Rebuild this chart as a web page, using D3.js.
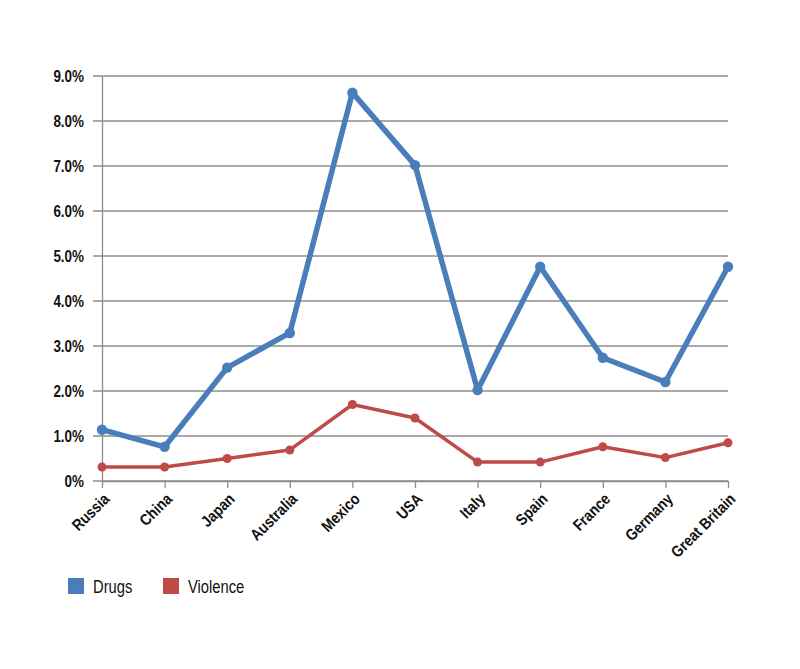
<!DOCTYPE html>
<html>
<head>
<meta charset="utf-8">
<script src="https://cdn.jsdelivr.net/npm/d3@7"></script>
<style>
  body { margin: 0; background: #fff; }
  text { font-family: "Liberation Sans", Arial, sans-serif; }
</style>
</head>
<body>
<script>
// Data
const countries = ["Russia", "China", "Japan", "Australia", "Mexico", "USA", "Italy", "Spain", "France", "Germany", "Great Britain"];
const drugs = [1.14, 0.76, 2.52, 3.29, 8.63, 7.02, 2.02, 4.76, 2.74, 2.20, 4.76];
const violence = [0.31, 0.31, 0.50, 0.69, 1.70, 1.40, 0.42, 0.42, 0.76, 0.52, 0.85];
const yTicks = [0, 1, 2, 3, 4, 5, 6, 7, 8, 9];

const W = 800, H = 669;
let margin = {top: 76, left: 102, bottom: 669 - 481, right: 800 - 728};
let width = W - margin.left - margin.right;
let height = H - margin.top - margin.bottom;

const svg = d3.select("body").append("svg")
    .attr("width", W)
    .attr("height", H);

const g = svg.append("g")
    .attr("transform", `translate(${margin.left}, ${margin.top})`);

const x = d3.scalePoint()
    .domain(countries)
    .range([0, width]);

const y = d3.scaleLinear()
    .domain([0, 9])
    .range([height, 0]);

// Gridlines (they also serve as the left tick marks)
g.append("g")
  .selectAll("line")
  .data(yTicks)
  .join("line")
    .attr("x1", -9)
    .attr("x2", width)
    .attr("y1", d => y(d))
    .attr("y2", d => y(d))
    .attr("stroke", "#8c8c8c")
    .attr("stroke-width", 1.3);

// Y axis
const yAxis = g.append("g")
    .call(d3.axisLeft(y).tickValues(yTicks).tickSize(0)
      .tickFormat(d => d === 0 ? "0%" : d.toFixed(1) + "%"));
yAxis.select(".domain").attr("stroke", "#8c8c8c").attr("stroke-width", 1.3);
yAxis.selectAll("text")
    .attr("x", 0)
    .attr("font-size", 16)
    .attr("font-weight", "bold")
    .attr("fill", "#111")
    .attr("text-anchor", "end")
    .attr("transform", "translate(-18,0) scale(0.84,1)");

// X axis
const xAxis = g.append("g")
    .attr("transform", `translate(0, ${height})`)
    .call(d3.axisBottom(x).tickSizeInner(7).tickSizeOuter(0));
xAxis.select(".domain").attr("stroke", "#8c8c8c").attr("stroke-width", 1.3);
xAxis.selectAll(".tick line").attr("stroke", "#8c8c8c").attr("stroke-width", 1.3);
xAxis.selectAll("text")
    .attr("font-size", 16)
    .attr("font-weight", "bold")
    .attr("fill", "#111")
    .attr("text-anchor", "end")
    .attr("dy", "0.35em")
    .attr("x", 0)
    .attr("y", 0)
    .attr("transform", "translate(4,15) rotate(-45) scale(0.86,1)");

// Lines
const series = [
  {name: "Drugs", values: drugs, color: "#4a7ebb", width: 5.5, r: 5.2},
  {name: "Violence", values: violence, color: "#be4b48", width: 3.5, r: 4.5}
];

const line = d3.line()
    .x((d, i) => x(countries[i]))
    .y(d => y(d));

series.forEach(s => {
  g.append("path")
    .datum(s.values)
    .attr("fill", "none")
    .attr("stroke", s.color)
    .attr("stroke-width", s.width)
    .attr("stroke-linejoin", "round")
    .attr("d", line);
  g.append("g")
    .selectAll("circle")
    .data(s.values)
    .join("circle")
      .attr("cx", (d, i) => x(countries[i]))
      .attr("cy", d => y(d))
      .attr("r", s.r)
      .attr("fill", s.color);
});

// Legend
const legend = svg.append("g")
    .attr("transform", "translate(68, 578)");
const legendX = [0, 95];
series.forEach((s, i) => {
  const lg = legend.append("g").attr("transform", `translate(${legendX[i]}, 0)`);
  lg.append("rect")
    .attr("width", 16)
    .attr("height", 16)
    .attr("fill", s.color);
  lg.append("text")
    .attr("font-size", 18)
    .attr("fill", "#111")
    .attr("transform", "translate(25,15) scale(0.82,1)")
    .text(s.name);
});
</script>
</body>
</html>
